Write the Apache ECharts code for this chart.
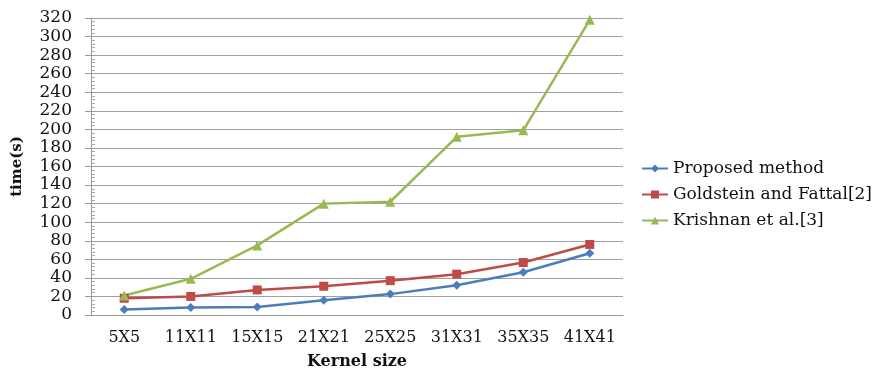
<!DOCTYPE html>
<html>
<head>
<meta charset="utf-8">
<script src="https://cdn.jsdelivr.net/npm/echarts@6/dist/echarts.min.js"></script>
<style>
  html, body { margin: 0; padding: 0; background: #fff; }
  #chart { width: 885px; height: 369px; }
</style>
</head>
<body>
<div id="chart"></div>
<script>
// Kernel sizes on the x axis
const kernelSizes = ['5X5', '11X11', '15X15', '21X21', '25X25', '31X31', '35X35', '41X41'];

// Run time in seconds for each method
const proposedTimes = [6, 8, 8.6, 16, 22.5, 32, 46, 66.5];
const goldsteinTimes = [18, 20, 27, 31, 37, 44, 56.5, 76];
const krishnanTimes = [21, 39, 75, 120, 122, 192, 199, 318];

const seriesNames = ['Proposed method', 'Goldstein and Fattal[2]', 'Krishnan et al.[3]'];

const FONT = '"DejaVu Serif", "Liberation Serif", serif';

const chart = echarts.init(document.getElementById('chart'));

function lineSeries(name, data, color, symbol, size) {
  return {
    name: name,
    type: 'line',
    data: data,
    symbol: symbol,
    symbolSize: size,
    lineStyle: { color: color, width: 2.5 },
    itemStyle: { color: color },
    animation: false
  };
}

chart.setOption({
  backgroundColor: '#fff',
  textStyle: { fontFamily: FONT },
  grid: { left: 91, right: 262, top: 18, bottom: 54, outerBoundsMode: 'none' },
  legend: {
    orient: 'vertical',
    left: 636,
    top: 155,
    itemWidth: 26,
    itemHeight: 10,
    itemGap: 9,
    textStyle: { fontFamily: FONT, fontSize: 17, color: '#111' },
    data: seriesNames
  },
  xAxis: {
    type: 'category',
    data: kernelSizes,
    boundaryGap: true,
    name: 'Kernel size',
    nameLocation: 'middle',
    nameGap: 39,
    nameTextStyle: { fontFamily: FONT, fontSize: 16, fontWeight: 'bold', color: '#111' },
    axisLine: { lineStyle: { color: '#999', width: 1 } },
    axisTick: { show: false },
    axisLabel: { fontFamily: FONT, fontSize: 16, color: '#111', margin: 15, interval: 0, hideOverlap: false }
  },
  yAxis: {
    type: 'value',
    min: 0,
    max: 320,
    interval: 20,
    name: 'time(s)',
    nameLocation: 'middle',
    nameGap: 66,
    nameRotate: 90,
    nameTextStyle: { fontFamily: FONT, fontSize: 15, fontWeight: 'bold', color: '#111' },
    axisLine: { show: true, lineStyle: { color: '#999', width: 1 } },
    axisTick: { show: true, length: 6, lineStyle: { color: '#999' } },
    minorTick: { show: true, splitNumber: 5, length: -4, lineStyle: { color: '#aaa' } },
    axisLabel: { fontFamily: FONT, fontSize: 17, color: '#111', margin: 19 },
    splitLine: { lineStyle: { color: '#a0a0a0', width: 1 } }
  },
  series: [
    lineSeries(seriesNames[0], proposedTimes, '#4A7EBB', 'diamond', 9),
    lineSeries(seriesNames[1], goldsteinTimes, '#BE4B48', 'rect', 9),
    lineSeries(seriesNames[2], krishnanTimes, '#98B954', 'triangle', 10)
  ]
});
</script>
</body>
</html>
